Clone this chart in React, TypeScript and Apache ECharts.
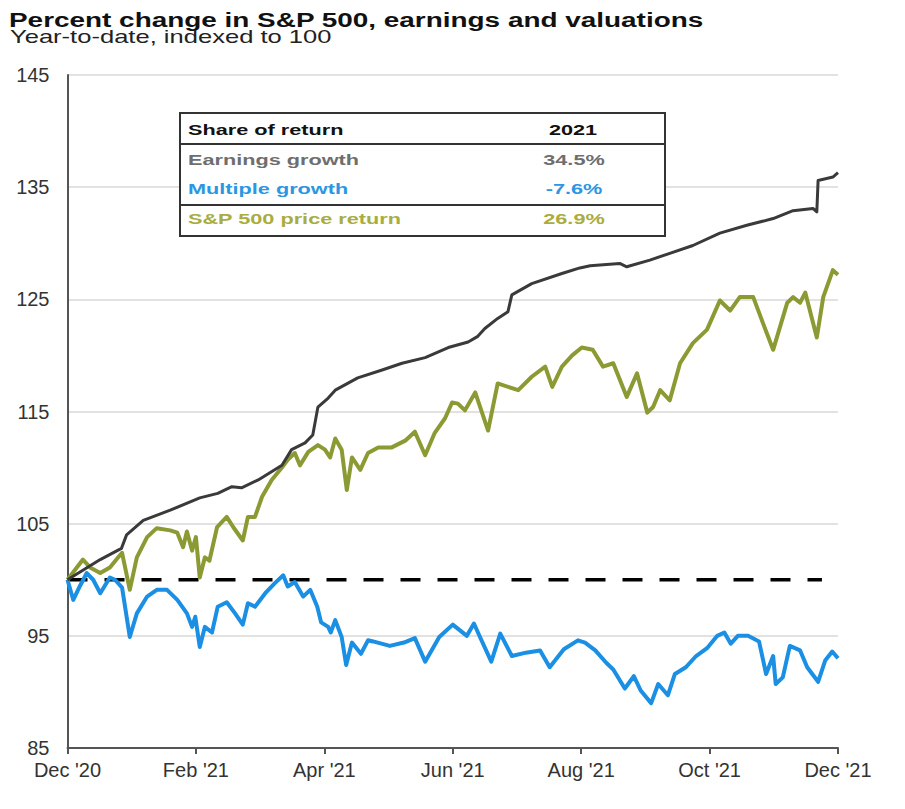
import React, { useEffect, useRef } from "react";
import * as echarts from "echarts";

const TITLE = "Percent change in S&P 500, earnings and valuations";
const SUBTITLE = "Year-to-date, indexed to 100";
const TICK_LABELS = ["Dec '20", "Feb '21", "Apr '21", "Jun '21", "Aug '21", "Oct '21", "Dec '21"];

const EARN_M = [0, 0.51, 0.84, 0.92, 1.18, 1.6, 2.06, 2.34, 2.56, 2.71, 2.97, 3.34, 3.49, 3.7, 3.82, 3.9, 4.06, 4.17, 4.52, 4.9, 5.21, 5.57, 5.93, 6.24, 6.39, 6.5, 6.7, 6.86, 6.92, 7.23, 7.7, 7.98, 8.14, 8.6, 8.71, 9.07, 9.38, 9.74, 10.16, 10.58, 10.99, 11.3, 11.61, 11.67, 11.69, 11.92, 12.0];
const EARN_V = [100, 101.8, 102.8, 104.0, 105.3, 106.2, 107.3, 107.7, 108.3, 108.2, 108.9, 110.2, 111.6, 112.2, 112.9, 115.4, 116.2, 116.9, 118.0, 118.7, 119.3, 119.8, 120.7, 121.2, 121.7, 122.4, 123.3, 123.9, 125.4, 126.4, 127.3, 127.8, 128.0, 128.2, 127.9, 128.5, 129.1, 129.8, 130.9, 131.6, 132.2, 132.9, 133.1, 132.8, 135.6, 135.9, 136.3];

const SPX_M = [0, 0.24, 0.35, 0.51, 0.66, 0.79, 0.85, 0.97, 1.08, 1.24, 1.39, 1.6, 1.71, 1.8, 1.86, 1.94, 2.0, 2.06, 2.14, 2.21, 2.33, 2.48, 2.58, 2.73, 2.81, 2.92, 3.03, 3.18, 3.34, 3.43, 3.54, 3.62, 3.75, 3.9, 4.01, 4.09, 4.17, 4.27, 4.35, 4.43, 4.56, 4.68, 4.84, 5.05, 5.26, 5.41, 5.57, 5.72, 5.88, 5.99, 6.08, 6.19, 6.35, 6.55, 6.7, 7.02, 7.23, 7.44, 7.55, 7.7, 7.86, 8.01, 8.18, 8.34, 8.5, 8.71, 8.87, 9.03, 9.12, 9.23, 9.38, 9.54, 9.74, 9.96, 10.16, 10.32, 10.47, 10.68, 10.83, 10.99, 11.21, 11.3, 11.41, 11.49, 11.67, 11.77, 11.92, 12.0];
const SPX_V = [100, 101.8, 101.1, 100.6, 101.1, 102.0, 102.4, 99.1, 102.0, 103.8, 104.6, 104.4, 104.2, 102.9, 104.3, 102.6, 103.8, 100.2, 102.0, 101.7, 104.7, 105.6, 104.7, 103.5, 105.6, 105.6, 107.4, 108.9, 110.0, 110.7, 111.3, 110.2, 111.4, 112.0, 111.6, 110.9, 112.6, 111.6, 108.0, 110.9, 109.8, 111.3, 111.8, 111.8, 112.4, 113.2, 111.1, 113.1, 114.4, 115.8, 115.7, 115.1, 116.7, 113.3, 117.5, 116.9, 118.1, 119.0, 117.2, 119.0, 120.0, 120.7, 120.5, 119.0, 119.3, 116.3, 118.4, 114.9, 115.4, 116.9, 116.0, 119.3, 121.1, 122.3, 124.9, 124.0, 125.2, 125.2, 122.9, 120.5, 124.7, 125.2, 124.7, 125.6, 121.6, 125.2, 127.6, 127.2];

const MULT_M = [0, 0.09, 0.19, 0.3, 0.4, 0.51, 0.66, 0.74, 0.85, 0.97, 1.08, 1.24, 1.39, 1.55, 1.71, 1.86, 1.94, 1.99, 2.06, 2.14, 2.25, 2.34, 2.48, 2.61, 2.73, 2.81, 2.92, 3.08, 3.23, 3.36, 3.43, 3.54, 3.67, 3.78, 3.89, 3.95, 4.06, 4.1, 4.17, 4.27, 4.34, 4.43, 4.57, 4.68, 4.76, 5.02, 5.24, 5.41, 5.57, 5.79, 6.0, 6.22, 6.33, 6.44, 6.6, 6.74, 6.92, 7.14, 7.36, 7.51, 7.73, 7.95, 8.06, 8.22, 8.39, 8.5, 8.68, 8.82, 8.93, 9.09, 9.2, 9.35, 9.46, 9.63, 9.79, 9.96, 10.12, 10.23, 10.33, 10.44, 10.6, 10.77, 10.88, 10.99, 11.03, 11.14, 11.25, 11.41, 11.52, 11.69, 11.8, 11.91, 12.0];
const MULT_V = [100, 98.2, 99.4, 100.6, 100.0, 98.8, 100.2, 100.0, 99.3, 94.9, 97.0, 98.5, 99.1, 99.1, 98.2, 97.0, 95.8, 96.7, 94.0, 95.8, 95.3, 97.6, 98.0, 97.0, 96.0, 97.9, 97.6, 98.8, 99.7, 100.4, 99.4, 99.8, 98.5, 99.1, 97.6, 96.2, 95.8, 95.3, 96.4, 94.9, 92.4, 94.4, 93.4, 94.6, 94.5, 94.1, 94.4, 94.8, 92.7, 94.9, 96.0, 95.0, 96.1, 94.7, 92.7, 95.2, 93.2, 93.5, 93.7, 92.2, 93.8, 94.6, 94.4, 93.7, 92.6, 92.0, 90.3, 91.4, 90.1, 89.0, 90.7, 89.7, 91.6, 92.2, 93.2, 93.9, 95.0, 95.3, 94.3, 95.0, 95.0, 94.5, 91.6, 93.2, 90.7, 91.3, 94.1, 93.7, 92.2, 90.9, 92.8, 93.6, 93.0];

const REF_M = [0, 11.75];
const REF_V = [100, 100];

const TABLE_HEADER = ["Share of return", "2021"];
const TABLE_ROWS = ["Earnings growth", "Multiple growth", "S&P 500 price return"];
const TABLE_VALUES = ["34.5%", "-7.6%", "26.9%"];
const TABLE_COLORS = ["#6e6e6e", "#2b97e3", "#a9ad3f"];

const zip = (xs: number[], ys: number[]) => xs.map((x, i) => [x, ys[i]]);

export default function App() {
  const ref = useRef<HTMLDivElement>(null);
  useEffect(() => {
    if (!ref.current) return;
    const chart = echarts.init(ref.current, undefined, { renderer: "svg" });
    const font = '"Liberation Sans", Arial, sans-serif';
    const rowY = [160, 189, 219];
    const graphic: any[] = [
      {
        type: "text", x: 9, y: 9, scaleX: 1.33,
        style: { text: TITLE, font: `bold 21px ${font}`, fill: "#111", verticalAlign: "top" },
      },
      {
        type: "text", x: 10, y: 28, scaleX: 1.42,
        style: { text: SUBTITLE, font: `18px ${font}`, fill: "#222", verticalAlign: "top" },
      },
      {
        type: "rect", shape: { x: 180, y: 113, width: 485, height: 123 },
        style: { fill: "#fff", stroke: "#333", lineWidth: 2 }, z: 10,
      },
      { type: "line", shape: { x1: 180, y1: 144, x2: 665, y2: 144 }, style: { stroke: "#333", lineWidth: 2 }, z: 11 },
      { type: "line", shape: { x1: 180, y1: 205, x2: 665, y2: 205 }, style: { stroke: "#333", lineWidth: 2 }, z: 11 },
      {
        type: "text", x: 188, y: 130, scaleX: 1.4, z: 12,
        style: { text: TABLE_HEADER[0], font: `bold 15.5px ${font}`, fill: "#111", verticalAlign: "middle" },
      },
      {
        type: "text", x: 573, y: 130, scaleX: 1.4, z: 12,
        style: { text: TABLE_HEADER[1], font: `bold 15.5px ${font}`, fill: "#111", align: "center", verticalAlign: "middle" },
      },
    ];
    TABLE_ROWS.forEach((r, i) => {
      graphic.push({
        type: "text", x: 188, y: rowY[i], scaleX: 1.4, z: 12,
        style: { text: r, font: `bold 15.5px ${font}`, fill: TABLE_COLORS[i], verticalAlign: "middle" },
      });
      graphic.push({
        type: "text", x: 574, y: rowY[i], scaleX: 1.4, z: 12,
        style: { text: TABLE_VALUES[i], font: `bold 15.5px ${font}`, fill: TABLE_COLORS[i], align: "center", verticalAlign: "middle" },
      });
    });

    chart.setOption({
      animation: false,
      backgroundColor: "#fff",
      grid: { left: 67.5, right: 67, top: 75, bottom: 61, containLabel: false, outerBoundsMode: "none" },
      xAxis: {
        type: "value", min: 0, max: 12, interval: 2,
        axisLine: { show: true, lineStyle: { color: "#555", width: 2 } },
        axisTick: { show: true, length: 6, lineStyle: { color: "#555", width: 2 } },
        splitLine: { show: false },
        axisLabel: {
          formatter: (v: number) => TICK_LABELS[Math.round(v / 2)] ?? "",
          color: "#333", fontSize: 20, fontFamily: font, margin: 12,
          showMinLabel: true, showMaxLabel: true,
        },
      },
      yAxis: {
        type: "value", min: 85, max: 145, interval: 10,
        axisLine: { show: true, lineStyle: { color: "#555", width: 2 } },
        axisTick: { show: false },
        splitLine: { show: true, lineStyle: { color: "#e2e2e2", width: 2 } },
        axisLabel: { color: "#333", fontSize: 20, fontFamily: font, margin: 18 },
      },
      series: [
        {
          name: "Index", type: "line", data: zip(REF_M, REF_V), symbol: "none",
          lineStyle: { color: "#000", width: 3.5, type: [20, 17] }, z: 1,
        },
        {
          name: "Multiple growth", type: "line", data: zip(MULT_M, MULT_V), symbol: "none",
          lineStyle: { color: "#1a8fe3", width: 4, join: "round" }, z: 2,
        },
        {
          name: "S&P 500 price return", type: "line", data: zip(SPX_M, SPX_V), symbol: "none",
          lineStyle: { color: "#8c9a33", width: 4, join: "round" }, z: 3,
        },
        {
          name: "Earnings growth", type: "line", data: zip(EARN_M, EARN_V), symbol: "none",
          lineStyle: { color: "#3a3a3a", width: 3, join: "round" }, z: 4,
        },
      ],
      graphic,
    });
    return () => chart.dispose();
  }, []);
  return <div ref={ref} style={{ position: "fixed", left: 0, top: 0, width: 905, height: 809 }} />;
}
